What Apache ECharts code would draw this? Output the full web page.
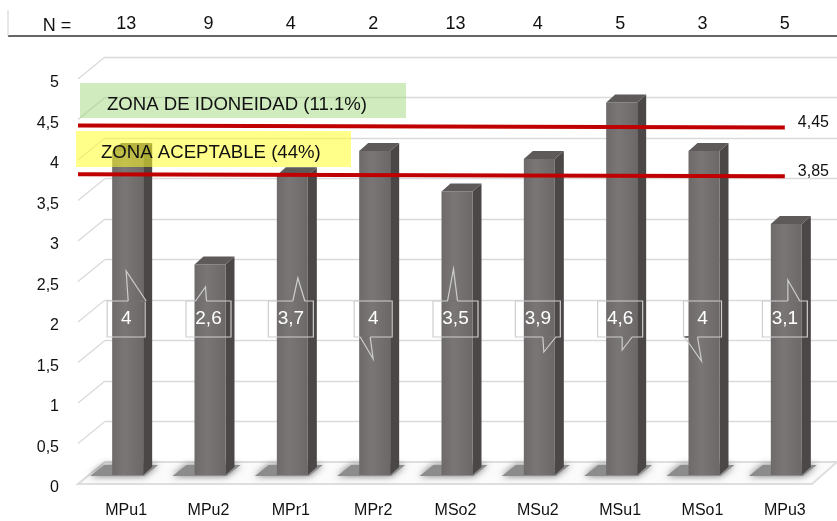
<!DOCTYPE html>
<html>
  <head>
    <meta charset="utf-8" />
    <title>Zonas</title>
    <script src="https://cdn.jsdelivr.net/npm/echarts@6.0.0/dist/echarts.min.js"></script>
    <style>
      body { margin: 0; background: #fff; }
      #main { width: 837px; height: 521px; }
    </style>
  </head>
  <body>
    <div id="main"></div>
    <script type="text/javascript">
// datos
var categories = ['MPu1', 'MPu2', 'MPr1', 'MPr2', 'MSo2', 'MSu2', 'MSu1', 'MSo1', 'MPu3'];
var values = [4, 2.6, 3.7, 4, 3.5, 3.9, 4.6, 4, 3.1];
var nCounts = ['13', '9', '4', '2', '13', '4', '5', '3', '5'];
var limits = [4.45, 3.85];
var yTicks = [0, 0.5, 1, 1.5, 2, 2.5, 3, 3.5, 4, 4.5, 5];

// forma de las flechas de cada globo: [base x0, base x1, punta x, punta y] respecto al centro
var calloutTails = [
  [2, 20, 0, -48], [-13, -2, -3, -32], [2, 14, 7, -41],
  [-13, -3, 0, 40], [-8, 2, -2, -50], [5, 18, 6, 33],
  [2, 12, 2, 31], [-18, -5, -1, 42], [3, 15, 3, -39]
];

var FONT = '"Liberation Sans", Arial, sans-serif';
function fmt(v) { return String(v).replace('.', ','); }

var chart = echarts.init(document.getElementById('main'));

function renderBar(params, api) {
  var i = api.value(0);
  var v = api.value(1);
  var top = api.coord([i, v]);
  var base = api.coord([i, 0]);
  var cx = top[0];
  var x0 = cx - 14, x1 = cx + 17, dx = 9, dy = -8;
  var yT = top[1], yB = base[1];
  var children = [];
  // sombra en el suelo
  children.push({
    type: 'polygon',
    shape: { points: [[cx - 36, yB + 1], [cx + 18, yB + 1], [cx + 32, yB - 10], [cx - 22, yB - 10]] },
    style: { fill: '#8c8c8c', shadowBlur: 7, shadowColor: 'rgba(80,80,80,0.8)' },
    z2: 0
  });
  // lateral
  children.push({
    type: 'polygon',
    shape: { points: [[x1, yT], [x1 + dx, yT + dy], [x1 + dx, yB + dy], [x1, yB]] },
    style: { fill: '#4b4747' },
    z2: 1
  });
  // frente
  children.push({
    type: 'rect',
    shape: { x: x0, y: yT, width: x1 - x0, height: yB - yT },
    style: {
      fill: new echarts.graphic.LinearGradient(0, 0, 1, 0, [
        { offset: 0, color: '#6e6a6a' },
        { offset: 0.4, color: '#7a7676' },
        { offset: 1, color: '#6c6868' }
      ])
    },
    z2: 2
  });
  // tapa
  children.push({
    type: 'polygon',
    shape: { points: [[x0, yT], [x1, yT], [x1 + dx, yT + dy], [x0 + dx, yT + dy]] },
    style: { fill: '#5e5a5a' },
    z2: 2
  });
  // globo con el valor
  var cy = yB - 156;
  var w = String(fmt(v)).length > 1 ? 45 : 38, h = 36;
  var t = calloutTails[i];
  var edge = t[3] < 0 ? cy - h / 2 : cy + h / 2;
  children.push({
    type: 'rect',
    shape: { x: cx - w / 2, y: cy - h / 2, width: w, height: h },
    style: { fill: 'none', stroke: '#cdcdcd', lineWidth: 1.2 },
    z2: 3
  });
  children.push({
    type: 'line',
    shape: { x1: cx + t[0], y1: edge, x2: cx + t[1], y2: edge },
    style: { stroke: '#747070', lineWidth: 2 },
    z2: 4
  });
  children.push({
    type: 'polyline',
    shape: { points: [[cx + t[0], edge], [cx + t[2], cy + t[3]], [cx + t[1], edge]] },
    style: { fill: 'none', stroke: '#cdcdcd', lineWidth: 1.2 },
    z2: 4
  });
  children.push({
    type: 'text',
    x: cx, y: cy,
    style: { text: fmt(v), fill: '#ffffff', font: '19px ' + FONT, align: 'center', verticalAlign: 'middle' },
    z2: 5
  });
  return { type: 'group', children: children };
}

function renderDiagonal(params, api) {
  var p = api.coord([0, api.value(0)]);
  return {
    type: 'line',
    shape: { x1: p[0], y1: p[1] - 4, x2: p[0] + 27, y2: p[1] - 26 },
    style: { stroke: '#dadada', lineWidth: 1.3 }
  };
}

function renderLimit(params, api) {
  var v = api.value(0);
  var a = api.coord([0, v]);
  var b = api.coord([0.963, v]);
  return {
    type: 'group',
    children: [
      { type: 'line', shape: { x1: a[0], y1: a[1] - 2, x2: b[0], y2: b[1] },
        style: { stroke: '#c00000', lineWidth: 4 } },
      { type: 'text', x: b[0] + 13, y: b[1] - 5,
        style: { text: fmt(v), fill: '#111', font: '16px ' + FONT, align: 'left', verticalAlign: 'middle' } }
    ]
  };
}

var option = {
  animation: false,
  grid: [
    { left: 105, right: 0, top: 57, bottom: 59 },   // pared del fondo
    { left: 85, right: 11, top: 70, bottom: 46 },   // barras
    { left: 78, right: 25, top: 83, bottom: 33 }    // plano frontal (etiquetas)
  ],
  xAxis: [
    { type: 'value', gridIndex: 0, show: false, min: 0, max: 1 },
    {
      type: 'category', gridIndex: 1, data: categories,
      axisLine: { show: false }, axisTick: { show: false },
      axisLabel: { margin: 28, fontSize: 16, color: '#111', fontFamily: FONT }
    },
    {
      type: 'category', gridIndex: 1, data: nCounts, position: 'top', offset: 35,
      axisLine: { show: false }, axisTick: { show: false },
      axisLabel: { margin: 2, fontSize: 18, color: '#111', fontFamily: FONT }
    },
    { type: 'value', gridIndex: 2, show: false, min: 0, max: 1 }
  ],
  yAxis: [
    {
      type: 'value', gridIndex: 0, min: 0, max: 5, interval: 0.5,
      axisLine: { show: false }, axisTick: { show: false }, axisLabel: { show: false },
      splitLine: { lineStyle: { color: '#dadada', width: 1.3 } }
    },
    { type: 'value', gridIndex: 1, min: 0, max: 5, show: false, splitLine: { show: false } },
    {
      type: 'value', gridIndex: 2, min: 0, max: 5, interval: 0.5,
      axisLine: { show: false }, axisTick: { show: false }, splitLine: { show: false },
      axisLabel: { margin: 19, fontSize: 16, color: '#111', fontFamily: FONT, formatter: fmt }
    }
  ],
  graphic: [
    { type: 'line', shape: { x1: 8, y1: 36, x2: 837, y2: 36 }, style: { stroke: '#333', lineWidth: 1.5 }, z: 1 },
    { type: 'line', shape: { x1: 8, y1: 10, x2: 8, y2: 36 }, style: { stroke: '#d0d0d0', lineWidth: 1 }, z: 1 },
    { type: 'text', x: 57, y: 26, style: { text: 'N =', font: '18px ' + FONT, fill: '#111', align: 'center', verticalAlign: 'middle' }, z: 1 },
    { type: 'polygon', shape: { points: [[78, 484], [812, 484], [837, 462], [105, 462]] },
      style: { fill: '#fbfbfb', stroke: '#dedede', lineWidth: 2 }, z: 1 },
    { type: 'rect', shape: { x: 80, y: 83, width: 326, height: 35 },
      style: { fill: 'rgba(150,210,110,0.45)' }, z: 6 },
    { type: 'text', x: 107, y: 105, style: { text: 'ZONA DE IDONEIDAD (11.1%)', font: '18.6px ' + FONT, fill: '#111', align: 'left', verticalAlign: 'middle' }, z: 7 },
    { type: 'rect', shape: { x: 76, y: 131, width: 275, height: 36 },
      style: { fill: 'rgba(255,255,40,0.55)' }, z: 6 },
    { type: 'text', x: 101, y: 153, style: { text: 'ZONA ACEPTABLE (44%)', font: '18.6px ' + FONT, fill: '#111', align: 'left', verticalAlign: 'middle' }, z: 7 }
  ],
  series: [
    {
      type: 'custom', xAxisIndex: 3, yAxisIndex: 2, z: 1,
      data: yTicks.map(function (t) { return [t]; }),
      encode: { y: 0 },
      renderItem: renderDiagonal, silent: true
    },
    {
      type: 'custom', xAxisIndex: 1, yAxisIndex: 1, z: 3,
      data: values.map(function (v, i) { return [i, v]; }),
      encode: { x: 0, y: 1 },
      renderItem: renderBar, silent: true
    },
    {
      type: 'custom', xAxisIndex: 3, yAxisIndex: 2, z: 10,
      data: limits.map(function (v) { return [v]; }),
      encode: { y: 0 },
      renderItem: renderLimit, silent: true
    }
  ]
};

chart.setOption(option);
    </script>
  </body>
</html>
